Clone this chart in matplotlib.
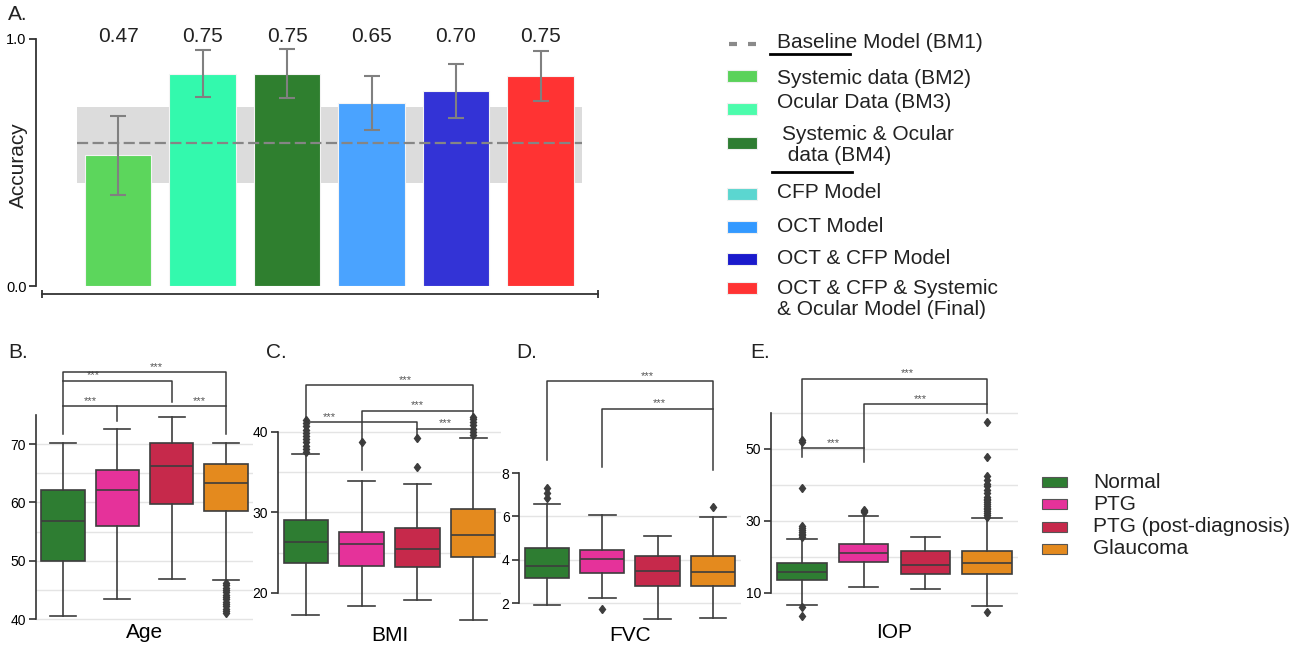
import matplotlib
matplotlib.use("Agg")
import matplotlib.pyplot as plt
from matplotlib.patches import Rectangle

plt.rcParams["font.family"] = ["Liberation Sans", "DejaVu Sans"]

W, H = 1305, 648

# ---------------- panel A data ----------------
bar_acc = [0.53, 0.86, 0.86, 0.74, 0.79, 0.85]
bar_err = [0.16, 0.095, 0.10, 0.11, 0.11, 0.10]
bar_text = ["0.47", "0.75", "0.75", "0.65", "0.70", "0.75"]
bar_colors = ["#5cd65c", "#33f9ad", "#2f7f2f", "#4aa3ff", "#3333d6", "#ff3333"]
baseline_acc = 0.58
baseline_band = (0.416, 0.724)

legend_a_labels = ["Systemic data (BM2)", "Ocular Data (BM3)",
                   "Systemic & Ocular\n data (BM4)", "CFP Model", "OCT Model",
                   "OCT & CFP Model", "OCT & CFP & Systemic\n& Ocular Model (Final)"]
legend_a_colors = ["#5ad25a", "#4cfcac", "#2e7d32", "#5bd6d0", "#3399ff",
                   "#1a1acc", "#ff3333"]

# ---------------- panels B-E data ----------------
groups = ["Normal", "PTG", "PTG (post-diagnosis)", "Glaucoma"]
group_colors = ["#2e7d32", "#e5329a", "#c6294b", "#e48a1e"]

age_q1 = [50.0, 55.9, 59.7, 58.6]
age_med = [56.9, 62.2, 66.2, 63.3]
age_q3 = [62.2, 65.5, 70.2, 66.6]
age_lo = [40.6, 43.4, 46.9, 46.7]
age_hi = [70.2, 72.6, 74.6, 70.2]
age_out = [[], [], [], [46.2, 45.8, 45.4, 45.0, 44.6, 44.2, 43.8, 43.4,
                        43.0, 42.6, 42.2, 41.8, 41.4, 41.0]]

bmi_q1 = [23.7, 23.3, 23.2, 24.5]
bmi_med = [26.3, 26.1, 25.5, 27.2]
bmi_q3 = [29.1, 27.6, 28.1, 30.4]
bmi_lo = [17.2, 18.4, 19.1, 16.6]
bmi_hi = [37.2, 33.9, 33.5, 39.3]
bmi_out = [[37.5, 37.9, 38.3, 38.7, 39.1, 39.5, 39.9, 40.3, 40.7, 41.1, 41.5],
           [38.7], [35.7, 39.2],
           [39.6, 40.0, 40.4, 40.8, 41.2, 41.6, 41.9]]

fvc_q1 = [3.15, 3.38, 2.80, 2.80]
fvc_med = [3.72, 4.03, 3.46, 3.42]
fvc_q3 = [4.54, 4.46, 4.15, 4.15]
fvc_lo = [1.92, 2.23, 1.26, 1.29]
fvc_hi = [6.58, 6.05, 5.08, 5.97]
fvc_out = [[6.85, 7.08, 7.32], [1.72], [], [6.42]]

iop_q1 = [13.6, 18.6, 15.3, 15.3]
iop_med = [15.8, 21.0, 17.8, 18.2]
iop_q3 = [18.2, 23.7, 21.8, 21.6]
iop_lo = [6.6, 11.7, 11.2, 6.4]
iop_hi = [25.0, 31.3, 25.5, 30.8]
iop_out = [[25.5, 26.0, 26.5, 27.0, 27.5, 28.0, 28.5, 39.1, 52.0, 52.5, 6.0, 3.5],
           [32.4, 32.8, 33.1], [],
           [31.2, 31.7, 32.2, 32.7, 33.2, 33.7, 34.2, 34.7, 35.2, 35.7, 36.2,
            36.8, 37.8, 38.6, 39.6, 40.4, 41.3, 42.4, 47.7, 57.4, 4.7]]

# brackets: (left, right, y, left leg bottom, right leg bottom, star x)
age_brackets = [(0, 3, 82.3, 71.8, 71.8, 1.72), (0, 2, 80.9, 80.9, 77.3, 0.56),
                (0, 1, 76.5, 76.5, 74.0, 0.5), (1, 3, 76.5, 76.5, 76.5, 2.52)]
bmi_brackets = [(0, 3, 45.8, 41.4, 40.4, 1.79), (1, 3, 42.6, 35.3, 42.6, 2.0),
                (0, 2, 41.2, 41.2, 39.4, 0.42), (2, 3, 40.4, 40.4, 40.4, 2.5)]
fvc_brackets = [(0, 3, 12.23, 8.58, 8.15, 1.82), (1, 3, 10.97, 8.3, 10.97, 2.04)]
iop_brackets = [(0, 3, 69.5, 47.9, 62.4, 1.7), (1, 3, 62.4, 46.5, 60.0, 1.92),
                (0, 1, 50.2, 50.2, 50.2, 0.51)]

fig = plt.figure(figsize=(W / 100, H / 100), dpi=100)
fig.patch.set_facecolor("white")


def px_axes(x0, y0, x1, y1):
    return fig.add_axes([x0 / W, 1 - y1 / H, (x1 - x0) / W, (y1 - y0) / H])


# ---------------- panel A ----------------
axA = px_axes(42, 39, 598, 286)
pos = list(range(len(bar_acc)))
axA.fill_between([-0.49, 5.49], baseline_band[0], baseline_band[1],
                 color="#dcdcdc", lw=0, zorder=0)
axA.bar(pos, bar_acc, width=0.79, color=bar_colors, edgecolor="#f4f4f4",
        linewidth=0.8, zorder=1)
axA.hlines(baseline_acc, -0.49, 5.49, colors="#858585", linestyles=(0, (5, 2)),
           lw=1.6, zorder=3)
axA.errorbar(pos, bar_acc, yerr=bar_err, fmt="none", ecolor="#808080",
             elinewidth=1.5, capsize=6, capthick=1.5, zorder=4)
for p, t in zip(pos, bar_text):
    axA.text(p, 1.01, t, ha="center", va="center", fontsize=15, color="#222222")
axA.set_xlim(-0.9, 5.68)
axA.set_ylim(0, 1)
for s in ["top", "right"]:
    axA.spines[s].set_visible(False)
axA.spines["left"].set_position(("outward", 4))
axA.spines["bottom"].set_position(("outward", 6))
for s in ["left", "bottom"]:
    axA.spines[s].set_color("#333333")
    axA.spines[s].set_linewidth(1.3)
axA.set_yticks([0, 1])
axA.set_yticklabels(["0.0", "1.0"])
axA.set_xticks([-0.9, 5.68])
axA.set_xticklabels([])
axA.tick_params(axis="y", length=5, width=1.3, color="#333333", labelsize=10.5,
                pad=2)
axA.tick_params(axis="x", direction="inout", length=6, width=1.3, color="#333333")
axA.patch.set_alpha(0)


# ---------------- panels B-E ----------------
def box_panel(box, q1, med, q3, lo, hi, out, ylim, ticks, spine, grid,
              brackets, xlabel):
    ax = px_axes(*box)
    stats = []
    for i in range(len(groups)):
        stats.append(dict(q1=q1[i], med=med[i], q3=q3[i], whislo=lo[i],
                          whishi=hi[i], fliers=out[i]))
    for g in grid:
        ax.axhline(g, color="#e4e4e4", lw=1, zorder=0)
    res = ax.bxp(stats, positions=range(len(groups)), widths=0.8,
                 capwidths=0.48, patch_artist=True,
                 boxprops=dict(edgecolor="#3d3d3d", linewidth=1.2),
                 medianprops=dict(color="#3d3d3d", linewidth=1.2),
                 whiskerprops=dict(color="#3d3d3d", linewidth=1.2),
                 capprops=dict(color="#3d3d3d", linewidth=1.2),
                 flierprops=dict(marker="d", markersize=4.5,
                                 markerfacecolor="#3d3d3d",
                                 markeredgecolor="#3d3d3d"))
    for patch, c in zip(res["boxes"], group_colors):
        patch.set_facecolor(c)
    for l, r, y, lb, rb, sx in brackets:
        ax.plot([l, l, r, r], [lb, y, y, rb], color="#3a3a3a", lw=1.1,
                clip_on=False, zorder=5)
        ax.annotate("***", xy=(sx, y), xytext=(0, 4), textcoords="offset points",
                    ha="center", va="center", fontsize=8, color="#555555")
    ax.set_xlim(-0.5, 3.5)
    ax.set_ylim(*ylim)
    for s in ["top", "right", "bottom"]:
        ax.spines[s].set_visible(False)
    ax.spines["left"].set_bounds(*spine)
    ax.spines["left"].set_color("#333333")
    ax.spines["left"].set_linewidth(1.2)
    ax.set_yticks(ticks)
    ax.set_xticks([])
    ax.tick_params(axis="y", length=5, width=1.2, color="#333333",
                   labelsize=10, pad=2)
    ax.set_xlabel(xlabel, fontsize=15, labelpad=1)
    ax.patch.set_alpha(0)
    return ax


box_panel((35.8, 362.5, 253, 622), age_q1, age_med, age_q3, age_lo, age_hi,
          age_out, (39.5, 84), [40, 50, 60, 70], (40, 75),
          [40, 45, 50, 55, 60, 65, 70], age_brackets, "Age")
box_panel((278, 375.6, 501, 625), bmi_q1, bmi_med, bmi_q3, bmi_lo, bmi_hi,
          bmi_out, (16, 47), [20, 30, 40], (20, 40),
          [20, 25, 30, 35, 40], bmi_brackets, "BMI")
box_panel((519.3, 369, 740.6, 624.7), fvc_q1, fvc_med, fvc_q3, fvc_lo, fvc_hi,
          fvc_out, (1.0, 12.8), [2, 4, 6, 8], (2, 8),
          [2, 4, 6], fvc_brackets, "FVC")
box_panel((771, 369.8, 1018, 621.8), iop_q1, iop_med, iop_q3, iop_lo, iop_hi,
          iop_out, (2, 72), [10, 30, 50], (10, 60),
          [10, 20, 30, 40, 50, 60], iop_brackets, "IOP")

# ---------------- overlay: letters and legends ----------------
ov = fig.add_axes([0, 0, 1, 1], zorder=10)
ov.set_xlim(0, W)
ov.set_ylim(H, 0)
ov.axis("off")
ov.patch.set_alpha(0)

for letter, x, y in [("A.", 8, 15), ("B.", 8, 353), ("C.", 266, 353),
                     ("D.", 516, 353), ("E.", 750, 353)]:
    ov.text(x, y, letter, fontsize=15, ha="left", va="center", color="#222222")

ov.text(18, 165, "Accuracy", fontsize=15, rotation=90, ha="center",
        va="center", color="#222222")

# legend A
ov.plot([729, 737], [44, 44], color="#8a8a8a", lw=3, solid_capstyle="butt")
ov.plot([748, 756], [44, 44], color="#8a8a8a", lw=3, solid_capstyle="butt")
ov.text(777, 43, "Baseline Model (BM1)", fontsize=15, va="center",
        color="#222222")
ov.plot([770, 850], [54, 54], color="black", lw=2)
ov.plot([772, 852], [172, 172], color="black", lw=2)

patch_y = [76, 109, 143, 194, 227, 259, 288]
text_y = [78, 103, 145, 193, 226, 258, 299]
text_x = [777, 777, 782, 777, 777, 777, 777]
for lab, col, py, ty, tx in zip(legend_a_labels, legend_a_colors, patch_y,
                                text_y, text_x):
    ov.add_patch(Rectangle((727, py - 6), 30, 12, facecolor=col,
                           edgecolor="#f0f0f0", lw=0.8))
    ov.text(tx, ty, lab, fontsize=15, va="center", ha="left",
            linespacing=1.15, color="#222222")

# legend for groups
for g, col, y in zip(groups, group_colors, [482, 504, 527, 549]):
    ov.add_patch(Rectangle((1042, y - 5), 25, 10, facecolor=col,
                           edgecolor="#555555", lw=0.8))
    ov.text(1093, y, g, fontsize=15, va="center", ha="left", color="#222222")

fig.savefig("out.png", dpi=100)
